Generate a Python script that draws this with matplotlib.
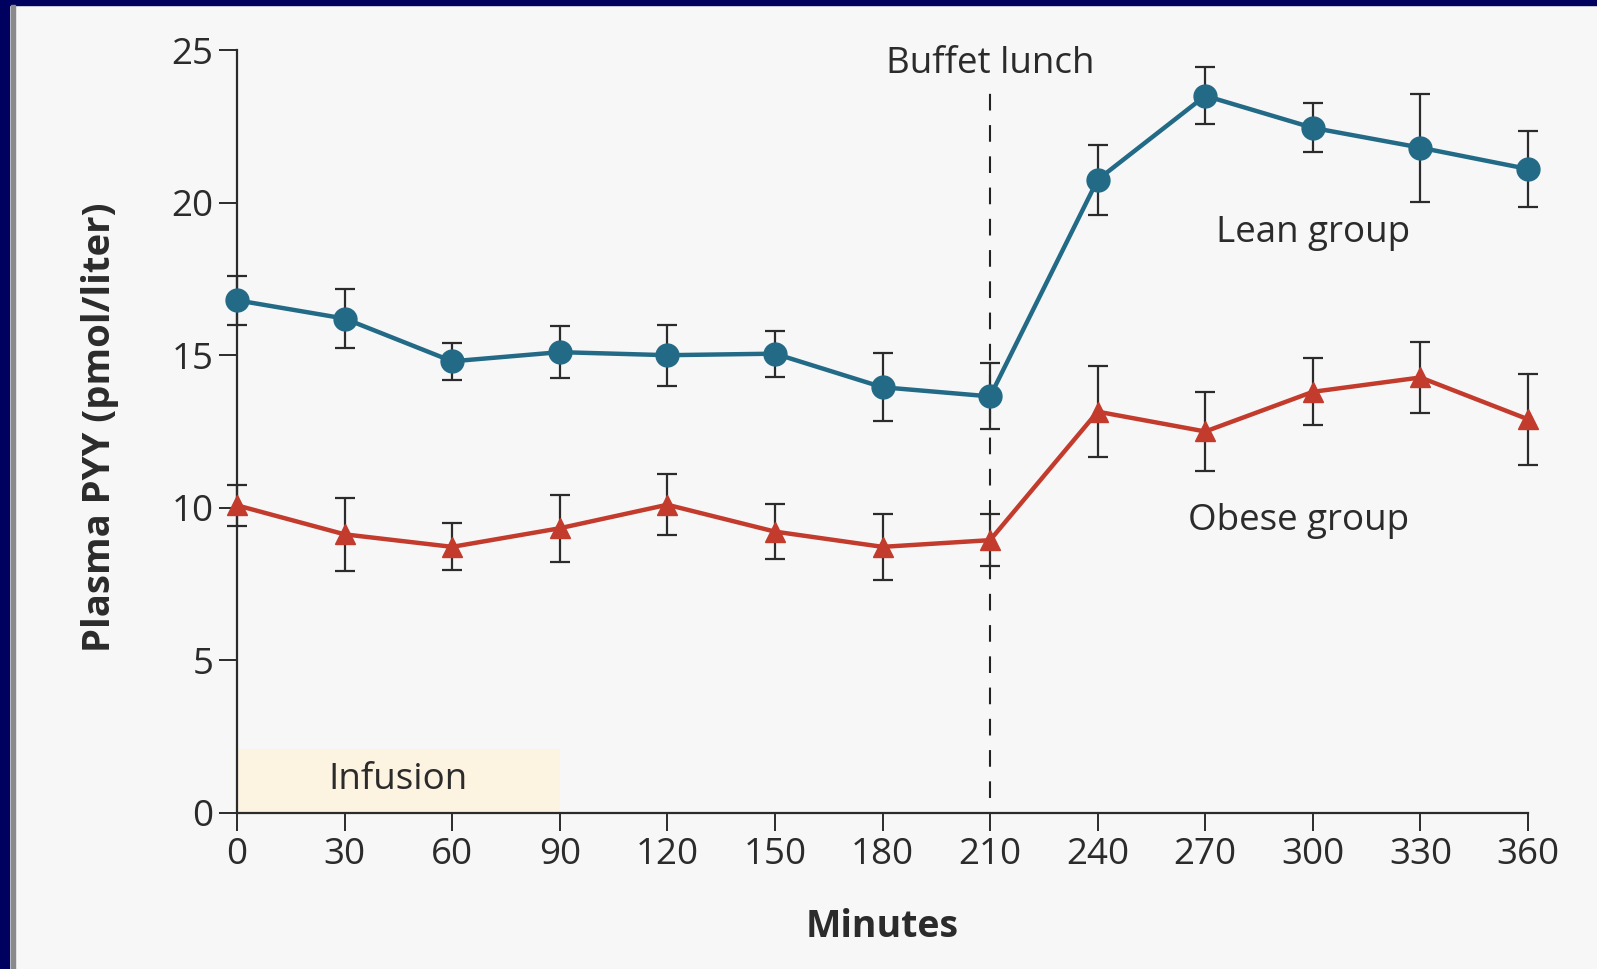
import matplotlib.pyplot as plt
from matplotlib.patches import Rectangle

# Data
minutes = [0, 30, 60, 90, 120, 150, 180, 210, 240, 270, 300, 330, 360]
lean = [16.8, 16.2, 14.8, 15.1, 15.0, 15.05, 13.95, 13.65, 20.75, 23.5, 22.45, 21.8, 21.1]
lean_err = [0.8, 0.97, 0.6, 0.85, 1.0, 0.75, 1.12, 1.08, 1.15, 0.93, 0.8, 1.77, 1.25]
obese = [10.08, 9.13, 8.72, 9.33, 10.1, 9.22, 8.72, 8.94, 13.15, 12.5, 13.8, 14.27, 12.9]
obese_err = [0.67, 1.2, 0.77, 1.1, 1.0, 0.9, 1.07, 0.85, 1.5, 1.3, 1.1, 1.15, 1.5]
xticks = [0, 30, 60, 90, 120, 150, 180, 210, 240, 270, 300, 330, 360]
yticks = [0, 5, 10, 15, 20, 25]

plt.rcParams['font.family'] = ['Open Sans', 'DejaVu Sans']

bg = '#f7f7f7'
txt = '#2b2b2b'
lean_color = '#236a87'
obese_color = '#c23b2c'
fs = 26.5

fig = plt.figure(figsize=(15.97, 9.69), dpi=100, facecolor=bg)
ax = fig.add_axes([0.1484, 0.1610, 0.8084, 0.7874])
ax.set_facecolor(bg)

# navy frame on top and left
fig.patches.append(Rectangle((0, 1 - 5 / 969), 1, 5 / 969, transform=fig.transFigure,
                             color='#00005e', zorder=10))
fig.patches.append(Rectangle((0, 0), 9 / 1597, 1, transform=fig.transFigure,
                             color='#00005e', zorder=10))
fig.patches.append(Rectangle((11 / 1597, 0), 4 / 1597, 1 - 5 / 969, transform=fig.transFigure,
                             color='#8a8a8a', zorder=10))

# infusion band
ax.add_patch(Rectangle((0, 0), 90, 2.1, facecolor='#fdf3e1', edgecolor='none', zorder=0))
ax.text(45, 1.07, 'Infusion', ha='center', va='center', fontsize=fs, color=txt)

# buffet lunch marker
ax.plot([210, 210], [0.5, 23.7], color='#222222', lw=1.5, dashes=(8, 7), zorder=1)
ax.text(210, 24.55, 'Buffet lunch', ha='center', va='center', fontsize=fs, color=txt)

ax.errorbar(minutes, lean, yerr=lean_err, color=lean_color, lw=3.2, marker='o', ms=16.5,
            ecolor='#2b2b2b', elinewidth=1.6, capsize=7.5, capthick=1.6, clip_on=False, zorder=3)
ax.errorbar(minutes, obese, yerr=obese_err, color=obese_color, lw=3.2, marker='^', ms=14.5,
            ecolor='#2b2b2b', elinewidth=1.6, capsize=7.5, capthick=1.6, clip_on=False, zorder=3)

ax.text(300, 19.0, 'Lean group', ha='center', va='center', fontsize=fs, color=txt)
ax.text(296, 9.57, 'Obese group', ha='center', va='center', fontsize=fs, color=txt)

ax.set_xlim(0, 360)
ax.set_ylim(0, 25)
ax.set_xticks(xticks)
ax.set_yticks(yticks)
ax.spines['top'].set_visible(False)
ax.spines['right'].set_visible(False)
for s in ['left', 'bottom']:
    ax.spines[s].set_linewidth(1.6)
    ax.spines[s].set_color(txt)
ax.tick_params(length=13, width=1.4, color=txt, labelcolor=txt, labelsize=fs, pad=4)

ax.set_xlabel('Minutes', fontsize=27, fontweight='bold', color=txt, va='center')
ax.xaxis.set_label_coords(0.4996, -0.149)
ax.set_ylabel('Plasma PYY (pmol/liter)', fontsize=27.5, fontweight='bold', color=txt, va='center')
ax.yaxis.set_label_coords(-0.106, 0.505)

fig.savefig('out.png', dpi=100, facecolor=bg)
